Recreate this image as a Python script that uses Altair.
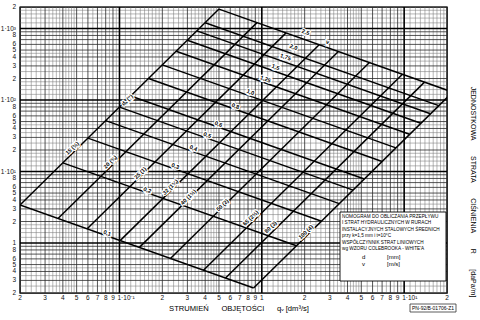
import altair as alt
import pandas as pd

# ---------------- axes ----------------
Q_DOMAIN = [0.02, 20]      # flow qv [dm3/s]
R_DOMAIN = [0.2, 2000]     # unit pressure loss R [daPa/m]

x_tick_vals = [0.02, 0.03, 0.04, 0.05, 0.06, 0.07, 0.08, 0.09,
               0.2, 0.3, 0.4, 0.5, 0.6, 0.7, 0.8, 0.9, 1,
               2, 3, 4, 5, 6, 7, 8, 9, 20]
x_tick_labels = ["2", "3", "4", "5", "6", "7", "8", "9",
                 "2", "3", "4", "5", "6", "7", "8", "9", "1",
                 "2", "3", "4", "5", "6", "7", "8", "9", "2"]
x_dec_vals = [0.1, 10]
x_dec_labels = ["1·10⁻¹", "1·10¹"]

y_tick_vals = [0.2, 0.3, 0.4, 0.5, 0.6, 0.8, 1,
               2, 3, 4, 5, 6, 8, 10,
               20, 30, 40, 50, 60, 80, 100,
               200, 300, 400, 500, 600, 800, 1000, 2000]
y_tick_labels = ["2", "3", "4", "5", "6", "8", "1",
                 "2", "3", "4", "5", "6", "8", "1·10¹",
                 "2", "3", "4", "5", "6", "8", "1·10²",
                 "2", "3", "4", "5", "6", "8", "1·10³", "2"]

# log-paper rulings (mantissas per decade)
x_fine_mant = [1.1, 1.2, 1.3, 1.4, 1.5, 1.6, 1.7, 1.8, 1.9,
               2.2, 2.4, 2.6, 2.8, 3.2, 3.4, 3.6, 3.8, 4.2, 4.4, 4.6, 4.8,
               5.5, 6.5, 7.5, 8.5, 9.5]
y_fine_mant = [1.2, 1.4, 1.6, 1.8, 2.5, 3.5, 4.5]
int_mant = [2, 3, 4, 5, 6, 7, 8, 9]
x_decades = [0.01, 0.1, 1, 10]
y_decades = [0.1, 1, 10, 100, 1000]

# ---------------- diameter lines (DN) ----------------
d_labels = ["15 (½)", "20 (¾)", "25 (1)", "32 (1¼)", "40 (1½)",
            "50 (2)", "65 (2½)", "80 (3)", "100 (4)"]
d_q_low = [0.020, 0.0370, 0.0593, 0.101, 0.138, 0.228, 0.389, 0.556, 0.875]
d_R_low = [3.40, 2.20, 1.58, 1.08, 0.869, 0.609, 0.417, 0.324, 0.235]
d_q_high = [0.50, 0.925, 1.48, 2.53, 3.45, 5.70, 9.73, 13.9, 21.9]
d_R_high = [1870, 1210, 869, 594, 478, 335, 229, 178, 129]
d_lab_q = [0.0465, 0.0861, 0.140, 0.2277, 0.3048, 0.529, 0.833, 1.152, 2.034]
d_lab_R = [21.3, 13.6, 9.54, 6.07, 4.40, 3.40, 2.24, 1.675, 1.426]

# ---------------- velocity lines ----------------
v_labels = ["0,1", "0,2", "0,3", "0,4", "0,5", "0,6", "0,8",
            "1,0", "1,25", "1,5", "1,75", "2,0", "2,5"]
v_q_start = [0.02, 0.04, 0.06, 0.08, 0.10, 0.12, 0.16, 0.20, 0.25, 0.30, 0.35, 0.40, 0.50]
v_R_start = [3.40, 13.2, 29.3, 51.5, 79.6, 114, 200, 310, 480, 686, 928, 1206, 1870]
v_q_end = [0.875, 1.75, 2.63, 3.50, 4.38, 5.25, 7.00, 8.75, 10.9, 13.1, 15.3, 17.5, 21.9]
v_R_end = [0.235, 0.914, 2.02, 3.56, 5.50, 7.87, 13.8, 21.4, 33.2, 47.4, 64.2, 83.4, 129]
v_lab_q = [0.082, 0.157, 0.247, 0.331, 0.415, 0.496, 0.653, 0.833, 1.063, 1.25, 1.47, 1.674, 2.034]
v_lab_R = [1.38, 5.51, 11.95, 21.3, 32.4, 46.2, 82.5, 129.5, 196.8, 289.6, 399.6, 551.5, 894]

axis_names = ['dₙ (")', "v"]
axis_name_q = [0.1133, 2.905]
axis_name_R = [100, 648]
axis_name_angle = [316, 20]

legend_lines = ["NOMOGRAM DO OBLICZANIA PRZEPŁYWU",
                "I STRAT HYDRAULICZNYCH W RURACH",
                "INSTALACYJNYCH STALOWYCH ŚREDNICH",
                "przy  k=1,5 mm   i   t=10°C",
                "WSPÓŁCZYNNIK STRAT LINIOWYCH",
                "wg WZORU COLEBROOKA - WHITE'A"]
legend_symbols = ["d", "v"]
legend_units = ["[mm]", "[m/s]"]

x_title_words = ["STRUMIEŃ", "OBJĘTOŚCI", "qᵥ [dm³/s]"]
y_title_words = ["JEDNOSTKOWA", "STRATA", "CIŚNIENIA", "R", "[daPa/m]"]
NB = "\u00a0"

FONT = "Liberation Sans"

xs = alt.Scale(type="log", domain=Q_DOMAIN, nice=False, zero=False)
ys = alt.Scale(type="log", domain=R_DOMAIN, nice=False, zero=False)


def in_x(v):
    return Q_DOMAIN[0] * 0.9999 <= v <= Q_DOMAIN[1] * 1.0001


def in_y(v):
    return R_DOMAIN[0] * 0.9999 <= v <= R_DOMAIN[1] * 1.0001


gx_fine = [round(m * d, 6) for d in x_decades for m in x_fine_mant if in_x(m * d)]
gx_int = [round(m * d, 6) for d in x_decades for m in int_mant if in_x(m * d)]
gx_dec = [0.1, 1, 10]
gy_fine = [round(m * d, 6) for d in y_decades for m in y_fine_mant if in_y(m * d)]
gy_int = [round(m * d, 6) for d in y_decades for m in int_mant if in_y(m * d)]
gy_dec = [1, 10, 100, 1000]


def vrules(vals, color, width):
    return alt.Chart(pd.DataFrame({"q": vals})).mark_rule(
        color=color, strokeWidth=width).encode(
        x=alt.X("q:Q", scale=xs, axis=None))


def hrules(vals, color, width):
    return alt.Chart(pd.DataFrame({"R": vals})).mark_rule(
        color=color, strokeWidth=width).encode(
        y=alt.Y("R:Q", scale=ys, axis=None))


grid = [
    vrules(gx_fine, "#7a7a7a", 0.55), hrules(gy_fine, "#7a7a7a", 0.55),
    vrules(gx_int, "#2a2a2a", 0.8), hrules(gy_int, "#2a2a2a", 0.8),
    vrules(gx_dec, "#000000", 1.6), hrules(gy_dec, "#000000", 1.6),
]

segs = pd.DataFrame({
    "q1": d_q_low + v_q_start,
    "R1": d_R_low + v_R_start,
    "q2": d_q_high + v_q_end,
    "R2": d_R_high + v_R_end,
})
nomo = alt.Chart(segs).mark_rule(color="black", strokeWidth=1.5, clip=True).encode(
    x=alt.X("q1:Q", scale=xs, axis=None), x2="q2:Q",
    y=alt.Y("R1:Q", scale=ys, axis=None), y2="R2:Q")

labs = pd.DataFrame({
    "q": d_lab_q + v_lab_q + axis_name_q,
    "R": d_lab_R + v_lab_R + axis_name_R,
    "t": d_labels + v_labels + axis_names,
    "a": [316] * len(d_labels) + [20] * len(v_labels) + axis_name_angle,
})
lab_enc = dict(x=alt.X("q:Q", scale=xs, axis=None), y=alt.Y("R:Q", scale=ys, axis=None),
               text="t:N", angle=alt.Angle("a:Q", scale=None))
lab_halo = alt.Chart(labs).mark_text(font=FONT, fontSize=5.6, fontWeight="bold",
                                      stroke="white", strokeWidth=2.5, fill="white").encode(**lab_enc)
lab_text = alt.Chart(labs).mark_text(font=FONT, fontSize=5.6, fontWeight="bold",
                                      fill="black").encode(**lab_enc)

# tick labels
xt = alt.Chart(pd.DataFrame({"q": x_tick_vals, "t": x_tick_labels})).mark_text(
    font=FONT, fontSize=6.5, baseline="middle", fill="#111").encode(
    x=alt.X("q:Q", scale=xs, axis=None), y=alt.value(291), text="t:N")
xt_dec = alt.Chart(pd.DataFrame({"q": x_dec_vals, "t": x_dec_labels})).mark_text(
    font=FONT, fontSize=6.5, baseline="middle", align="left", dx=-2, fill="#111").encode(
    x=alt.X("q:Q", scale=xs, axis=None), y=alt.value(291), text="t:N")
yt = alt.Chart(pd.DataFrame({"R": y_tick_vals, "t": y_tick_labels})).mark_text(
    font=FONT, fontSize=6.5, align="right", baseline="middle", fill="#111").encode(
    y=alt.Y("R:Q", scale=ys, axis=None), x=alt.value(-4), text="t:N")

# legend box
one = pd.DataFrame({"k": [0]})
box = alt.Chart(one).mark_rect(
    fill="white", stroke="black", strokeWidth=0.9).encode(
    x=alt.value(320), x2=alt.value(426), y=alt.value(205), y2=alt.value(274))
leg = alt.Chart(pd.DataFrame({"t": ["\n".join(legend_lines)]})).mark_text(
    font=FONT, fontSize=4.7, align="left", baseline="top", lineBreak="\n",
    lineHeight=6.4, fill="black").encode(
    x=alt.value(322), y=alt.value(207), text="t:N")
leg_sym = alt.Chart(pd.DataFrame({"t": ["\n".join(legend_symbols)]})).mark_text(
    font=FONT, fontSize=6, align="left", baseline="top", lineBreak="\n", lineHeight=7,
    fill="black").encode(
    x=alt.value(342), y=alt.value(247), text="t:N")
leg_unit = alt.Chart(pd.DataFrame({"t": ["\n".join(legend_units)]})).mark_text(
    font=FONT, fontSize=6, align="left", baseline="top", lineBreak="\n", lineHeight=7,
    fill="black").encode(
    x=alt.value(367), y=alt.value(247), text="t:N")

# titles (non-breaking spaces keep the wide letter-spaced look)
x_title_text = (NB * 6).join(x_title_words)
y_title_text = (NB * 8).join(y_title_words)
x_title = alt.Chart(pd.DataFrame({"t": [x_title_text]})).mark_text(
    font=FONT, fontSize=7.6, baseline="middle", fill="black").encode(
    x=alt.value(219), y=alt.value(302), text="t:N")
y_title = alt.Chart(pd.DataFrame({"t": [y_title_text]})).mark_text(
    font=FONT, fontSize=7, baseline="middle", angle=90, fill="black").encode(
    x=alt.value(453), y=alt.value(185), text="t:N")
pn_box = alt.Chart(one).mark_rect(
    fill="white", stroke="#333", strokeWidth=0.8).encode(
    x=alt.value(390), x2=alt.value(436), y=alt.value(297), y2=alt.value(305))
pn = alt.Chart(pd.DataFrame({"t": ["PN-92/B-01706-Z1"]})).mark_text(
    font=FONT, fontSize=5, baseline="middle", fill="black").encode(
    x=alt.value(413), y=alt.value(301), text="t:N")

chart = alt.layer(*grid, nomo, lab_halo, lab_text, box, leg, leg_sym, leg_unit,
                  xt, xt_dec, yt, x_title, y_title, pn_box, pn).properties(
    width=427, height=286,
    padding={"left": 20, "top": 7, "right": 33, "bottom": 27},
    autosize="none",
    background="white",
).configure_view(stroke="black", strokeWidth=1.4)

chart.save("out.html", embed_options={"renderer": "svg", "actions": False})
